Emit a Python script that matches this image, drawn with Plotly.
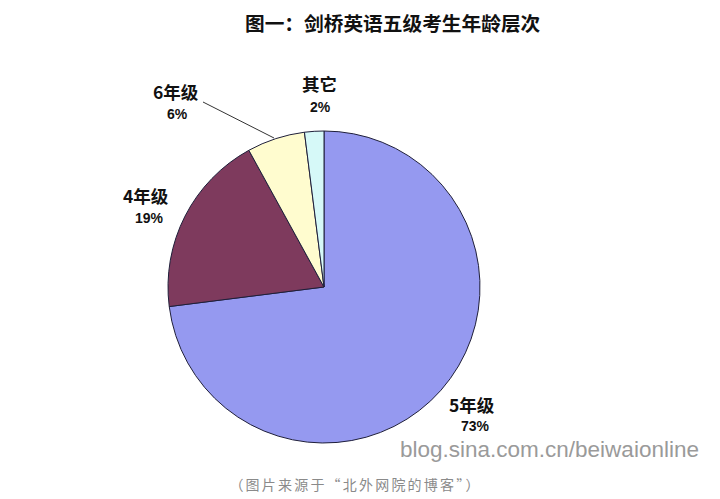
import plotly.graph_objects as go

title_text = "图一：剑桥英语五级考生年龄层次"
categories = ["5年级", "4年级", "6年级", "其它"]
values = [73, 19, 6, 2]
pct_labels = ["73%", "19%", "6%", "2%"]
colors = ["#9599F0", "#7E3A5D", "#FFFCCF", "#D6F9F8"]
watermark = "blog.sina.com.cn/beiwaionline"
caption = "（图片来源于“北外网院的博客”）"

W, H = 720, 499
cx, cy, r = 324, 287, 156

fig = go.Figure(go.Pie(
    labels=categories,
    values=values,
    sort=False,
    direction="clockwise",
    rotation=0,
    marker=dict(colors=colors, line=dict(color="#1f1f3a", width=1)),
    textinfo="none",
    hoverinfo="label+percent",
    showlegend=False,
    domain=dict(x=[(cx - r) / W, (cx + r) / W], y=[(H - cy - r) / H, (H - cy + r) / H]),
))

font_cjk = "Noto Sans CJK SC, SimHei, sans-serif"
# label centre positions (pixels) for category name and percentage
label_pos = {"5年级": ((472, 404), (475, 426)),
             "4年级": ((146, 195), (149, 218)),
             "6年级": ((176, 92), (177, 114)),
             "其它": ((319, 84), (320, 107))}


def ann(x, y, text, size, color, family):
    return dict(x=x / W, y=1 - y / H, xref="paper", yref="paper", text=text,
                xanchor="center", yanchor="middle", showarrow=False, borderpad=0,
                font=dict(family=family, size=size, color=color))


annotations = []
for cat, pct in zip(categories, pct_labels):
    (x1, y1), (x2, y2) = label_pos[cat]
    annotations.append(ann(x1, y1, f"<b>{cat}</b>", 17.5, "#111111", font_cjk))
    annotations.append(ann(x2, y2, f"<b>{pct}</b>", 14, "#111111", "Liberation Sans, Arial"))

annotations.append(ann(393, 22, f"<b>{title_text}</b>", 19.7, "#111111", font_cjk))
annotations.append(ann(549, 449, watermark, 22.5, "#9a9a9a", "Liberation Sans, Arial"))
annotations.append(ann(355, 484, caption, 14, "#8a8a8a", font_cjk))

fig.update_layout(
    width=W, height=H,
    margin=dict(l=0, r=0, t=0, b=0),
    paper_bgcolor="white", plot_bgcolor="white",
    annotations=annotations,
    shapes=[dict(type="line", xref="paper", yref="paper",
                 x0=203 / W, y0=1 - 102 / H, x1=274 / W, y1=1 - 138 / H,
                 line=dict(color="#333333", width=1))],
)

post = ("document.body.style.margin='0';"
        "document.querySelectorAll('.annotation-text').forEach(function(t){"
        "if(t.textContent.indexOf('图片来源')>=0){t.style.letterSpacing='2.2px';}});")

fig.write_html("out.html", post_script=post, config={"displayModeBar": False})
